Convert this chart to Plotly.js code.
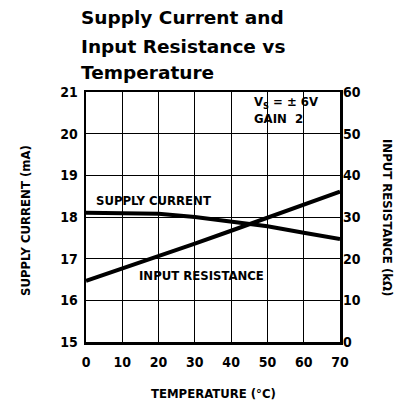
<!DOCTYPE html>
<html><head><meta charset="utf-8">
<script src="https://cdn.plot.ly/plotly-3.0.1.min.js"></script>
<style>html,body{margin:0;padding:0;background:#fff}</style>
</head><body>
<div id="chart" style="width:402px;height:406px"></div>
<script>
const temperature = [0, 10, 20, 30, 40, 50, 60, 70];
const supplyCurrent = [18.1, 18.1, 18.08, 18.0, 17.9, 17.78, 17.62, 17.47];
const inputResistance = [14.7, 17.6, 20.6, 23.6, 26.7, 29.8, 33.0, 36.1];
const leftTicks = [15, 16, 17, 18, 19, 20, 21];
const rightTicks = [0, 10, 20, 30, 40, 50, 60];
const xTicks = [0, 10, 20, 30, 40, 50, 60, 70];
const titleLines = ['Supply Current and', 'Input Resistance vs', 'Temperature'];

const cond = "DejaVu Sans Condensed, Liberation Sans Narrow, sans-serif";
const tickFont = {family: cond, size: 14, color: '#000', weight: 'bold'};
const labFont = {family: cond, size: 13, color: '#000', weight: 'bold'};

const traces = [
  {x: temperature, y: supplyCurrent, mode: 'lines', line: {color: '#000', width: 4}, yaxis: 'y', hoverinfo: 'skip'},
  {x: temperature, y: inputResistance, mode: 'lines', line: {color: '#000', width: 4}, yaxis: 'y2', hoverinfo: 'skip'}
];

// plot area: x 86..340, y 92..342 (pixels)
const L = 86, R = 340, T = 92, B = 342;
const px = x => (x - L) / (R - L);
const py = y => (B - y) / (B - T);

const titleY = [18, 46, 73];
const annotations = titleLines.map((t, i) => ({
  text: t, xref: 'paper', yref: 'paper', x: px(79), y: py(titleY[i]),
  xanchor: 'left', yanchor: 'middle', showarrow: false,
  font: {family: 'DejaVu Sans, sans-serif', size: 18.5, color: '#000', weight: 'bold'}
}));

annotations.push(
  {text: 'SUPPLY CURRENT (mA)', textangle: -90, xref: 'paper', yref: 'paper', x: px(25), y: py(221),
   xanchor: 'center', yanchor: 'middle', showarrow: false, font: labFont},
  {text: 'INPUT RESISTANCE (kΩ)', textangle: 90, xref: 'paper', yref: 'paper', x: px(388), y: py(217),
   xanchor: 'center', yanchor: 'middle', showarrow: false, font: labFont},
  {text: 'TEMPERATURE (°C)', xref: 'paper', yref: 'paper', x: px(213), y: py(393),
   xanchor: 'center', yanchor: 'middle', showarrow: false, font: labFont},
  {text: 'SUPPLY CURRENT', xref: 'paper', yref: 'paper', x: px(94), y: py(200),
   xanchor: 'left', yanchor: 'middle', showarrow: false, font: labFont},
  {text: 'INPUT RESISTANCE', xref: 'paper', yref: 'paper', x: px(137), y: py(275),
   xanchor: 'left', yanchor: 'middle', showarrow: false, font: labFont},
  {text: 'V<sub>S</sub> = ± 6V', xref: 'paper', yref: 'paper', x: px(252), y: py(102),
   xanchor: 'left', yanchor: 'middle', showarrow: false, font: labFont},
  {text: 'GAIN  2', xref: 'paper', yref: 'paper', x: px(252), y: py(118),
   xanchor: 'left', yanchor: 'middle', showarrow: false, font: labFont}
);

const layout = {
  width: 402, height: 406,
  margin: {l: L, r: 402 - R, t: T, b: 406 - B},
  paper_bgcolor: '#fff', plot_bgcolor: '#fff',
  showlegend: false,
  xaxis: {
    range: [0, 70], tickvals: xTicks, ticktext: xTicks.map(String),
    showgrid: true, gridcolor: '#000', gridwidth: 1,
    showline: true, linecolor: '#000', linewidth: 2.5, mirror: true,
    ticks: '', tickfont: tickFont, zeroline: false, ticklabelstandoff: 6
  },
  yaxis: {
    range: [15, 21], tickvals: leftTicks, ticktext: leftTicks.map(String),
    showgrid: true, gridcolor: '#000', gridwidth: 1,
    showline: true, linecolor: '#000', linewidth: 2.5, mirror: true,
    ticks: '', tickfont: tickFont, zeroline: false, ticklabelstandoff: 3
  },
  yaxis2: {
    range: [0, 60], tickvals: rightTicks, ticktext: rightTicks.map(String),
    overlaying: 'y', side: 'right', showgrid: false, showline: false,
    ticks: '', tickfont: tickFont, zeroline: false, ticklabelstandoff: 2
  },
  annotations: annotations
};

Plotly.newPlot('chart', traces, layout, {staticPlot: true, displayModeBar: false});
</script>
</body></html>
